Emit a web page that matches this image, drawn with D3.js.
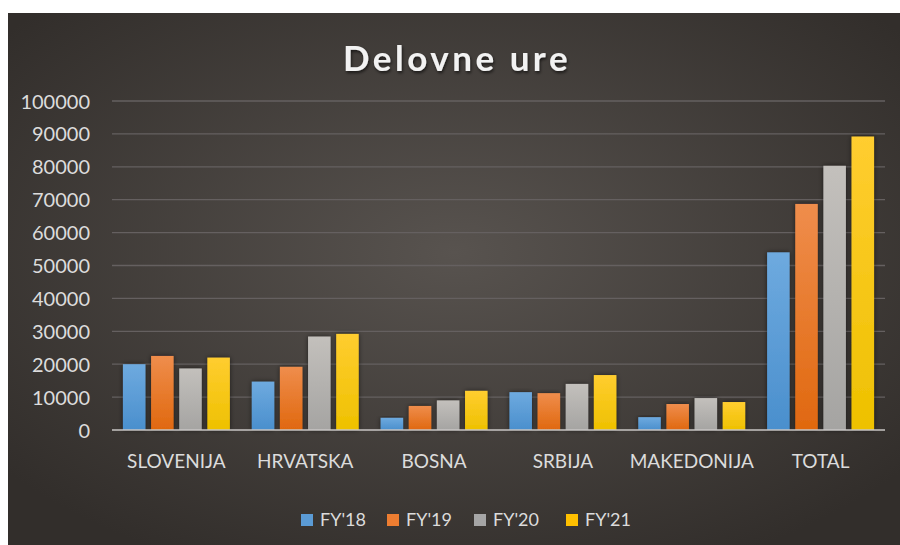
<!DOCTYPE html>
<html>
<head>
<meta charset="utf-8">
<script src="https://cdn.jsdelivr.net/npm/d3@7"></script>
<style>
html,body{margin:0;padding:0;background:#fff;}
svg{display:block;}
</style>
</head>
<body>
<svg id="chart" width="900" height="545"></svg>
<script>
const categories = ["SLOVENIJA","HRVATSKA","BOSNA","SRBIJA","MAKEDONIJA","TOTAL"];
const seriesNames = ["FY'18","FY'19","FY'20","FY'21"];
const fy18 = [20000, 14700, 3700, 11500, 3900, 54000];
const fy19 = [22500, 19200, 7300, 11200, 7900, 68700];
const fy20 = [18700, 28400, 9000, 14000, 9700, 80300];
const fy21 = [22000, 29200, 11900, 16700, 8500, 89200];
const yTicks = [0,10000,20000,30000,40000,50000,60000,70000,80000,90000,100000];
const seriesValues = [fy18, fy19, fy20, fy21];
const colorsTop = ["#6eaadf","#ef8d4c","#c3c0bc","#ffcd30"];
const colorsBot = ["#4a8fcd","#e0680f","#a5a4a2","#eec100"];
const legendColors = ["#5b9bd5","#ed7d31","#a5a5a5","#ffc000"];

const svg = d3.select("#chart");
const defs = svg.append("defs");
const bg = defs.append("radialGradient").attr("id","bg")
  .attr("cx","50%").attr("cy","45%").attr("r","65%");
bg.append("stop").attr("offset","0%").attr("stop-color","#58534f");
bg.append("stop").attr("offset","100%").attr("stop-color","#322e2b");
seriesNames.forEach((s,i)=>{
  const g = defs.append("linearGradient").attr("id","g"+i).attr("x1",0).attr("y1",0).attr("x2",0).attr("y2",1);
  g.append("stop").attr("offset","0%").attr("stop-color",colorsTop[i]);
  g.append("stop").attr("offset","100%").attr("stop-color",colorsBot[i]);
});
const sh = defs.append("filter").attr("id","shadow").attr("x","-30%").attr("y","-10%").attr("width","160%").attr("height","130%");
sh.append("feDropShadow").attr("dx",0).attr("dy",0).attr("stdDeviation",2.5).attr("flood-color","#000").attr("flood-opacity",0.55);
const tsh = defs.append("filter").attr("id","tshadow");
tsh.append("feDropShadow").attr("dx",1).attr("dy",2).attr("stdDeviation",1.5).attr("flood-color","#000").attr("flood-opacity",0.6);

svg.append("rect").attr("x",8).attr("y",13).attr("width",892).attr("height",532).attr("fill","url(#bg)");

const x0 = d3.scaleBand().domain(categories).range([112,885]).paddingInner(0.17).paddingOuter(0.085);
const x1 = d3.scaleBand().domain(seriesNames).range([0,x0.bandwidth()]).paddingInner(0.2);
const y = d3.scaleLinear().domain([0,100000]).range([430,101]);

// gridlines
svg.append("g").selectAll("line").data(yTicks.filter(d=>d>0)).join("line")
  .attr("x1",112).attr("x2",885).attr("y1",d=>y(d)).attr("y2",d=>y(d))
  .attr("stroke","#656060").attr("stroke-width",1.3);

const font = "Lato, 'Open Sans', sans-serif";

// y axis labels
const yAxis = d3.axisLeft(y).tickValues(yTicks).tickSize(0).tickPadding(0).tickFormat(d3.format("d"));
const ya = svg.append("g").attr("transform","translate(90,0)").call(yAxis);
ya.select(".domain").remove();
ya.selectAll("text").attr("fill","#dcdcdc").style("font-family",font).style("font-size","20px").attr("dy","0.35em");

// bars
const groups = svg.append("g").selectAll("g").data(categories).join("g")
  .attr("transform",c=>`translate(${x0(c)},0)`);
groups.selectAll("rect").data((c,ci)=>seriesNames.map((s,si)=>({s,si,v:seriesValues[si][ci]}))).join("rect")
  .attr("x",d=>x1(d.s)).attr("width",x1.bandwidth())
  .attr("y",d=>y(d.v)).attr("height",d=>y(0)-y(d.v))
  .attr("fill",d=>"url(#g"+d.si+")").attr("filter","url(#shadow)");

// x axis line
svg.append("line").attr("x1",112).attr("x2",885).attr("y1",y(0)).attr("y2",y(0))
  .attr("stroke","#c8c6c4").attr("stroke-width",1.6);

// x axis labels
const xAxis = d3.axisBottom(x0).tickSize(0).tickPadding(0);
const xa = svg.append("g").attr("transform","translate(0,461)").call(xAxis);
xa.select(".domain").remove();
xa.selectAll("text").attr("fill","#dcdcdc").style("font-family",font).style("font-size","19px").attr("dy","0.35em");

// title
svg.append("text").attr("x",457).attr("y",71).attr("text-anchor","middle")
  .attr("fill","#f2f2f2").attr("filter","url(#tshadow)")
  .style("font-family",font).style("font-weight","bold")
  .style("font-size","35px").style("letter-spacing","3.5px")
  .text("Delovne ure");

// legend
const legendX = [301, 387, 474, 566];
const lg = svg.append("g").selectAll("g").data(seriesNames).join("g")
  .attr("transform",(d,i)=>`translate(${legendX[i]},520)`);
lg.append("rect").attr("x",0).attr("y",-6).attr("width",12).attr("height",12).attr("fill",(d,i)=>legendColors[i]);
lg.append("text").attr("x",19).attr("y",0).attr("dy","0.35em").attr("fill","#dcdcdc")
  .style("font-family",font).style("font-size","18px").text(d=>d);
</script>
</body>
</html>
